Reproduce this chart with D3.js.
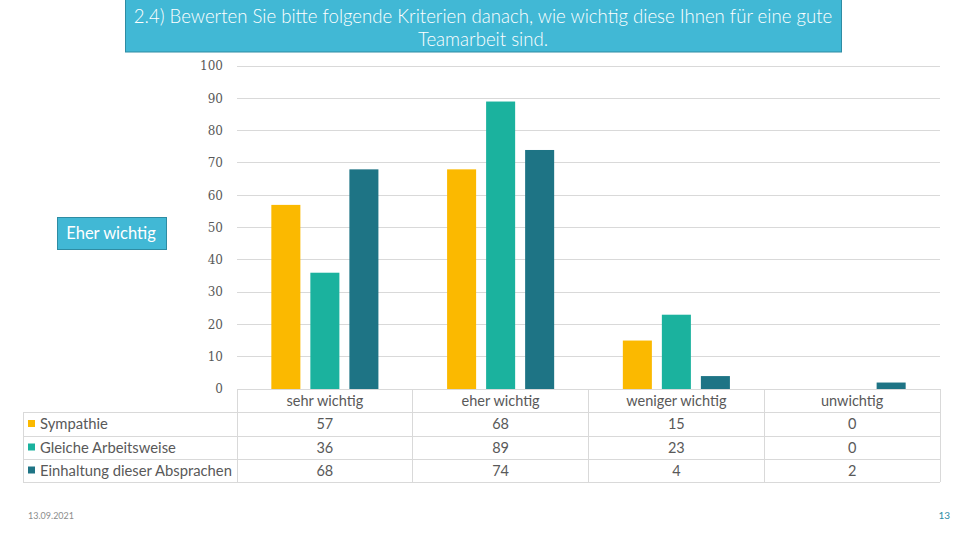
<!DOCTYPE html>
<html><head><meta charset="utf-8">
<script src="https://cdn.jsdelivr.net/npm/d3@7"></script>
<style>body{margin:0;background:#fff;}svg{display:block;}</style>
</head><body>
<svg id="c" width="960" height="540"></svg>
<script>
const categories = ["sehr wichtig", "eher wichtig", "weniger wichtig", "unwichtig"];
const seriesNames = ["Sympathie", "Gleiche Arbeitsweise", "Einhaltung dieser Absprachen"];
const sympathie = [57, 68, 15, 0];
const gleiche = [36, 89, 23, 0];
const einhaltung = [68, 74, 4, 2];
const yTicks = [0, 10, 20, 30, 40, 50, 60, 70, 80, 90, 100];
const colors = ["#fbb900", "#1bb29e", "#1e7485"];
const titleLines = ["2.4) Bewerten Sie bitte folgende Kriterien danach, wie wichtig diese Ihnen für eine gute", "Teamarbeit sind."];

const series = [sympathie, gleiche, einhaltung];
const svg = d3.select("#c");
const font = "Lato, 'Open Sans', sans-serif";
const L = 237, R = 940, T = 66, B = 389;

const x = d3.scaleBand().domain(categories).range([L, R]);
const xi = d3.scaleBand().domain(d3.range(3)).range([0, x.bandwidth()]).paddingInner(0.256).paddingOuter(0.88);
const y = d3.scaleLinear().domain([0, 100]).range([B, T]);

// gridlines
svg.append("g").selectAll("line").data(yTicks).join("line")
  .attr("x1", L).attr("x2", R).attr("y1", d => y(d)).attr("y2", d => y(d))
  .attr("stroke", "#d9d9d9").attr("stroke-width", 1).attr("shape-rendering", "crispEdges");

// y axis labels
const yAxis = d3.axisLeft(y).tickValues(yTicks).tickSize(0).tickPadding(14);
const ya = svg.append("g").attr("transform", `translate(${L},0)`).call(yAxis);
ya.select(".domain").remove();
ya.selectAll("text").attr("font-family", "'DejaVu Serif', serif").attr("font-size", 12).attr("fill", "#595959");

// bars
series.forEach((s, si) => {
  svg.append("g").selectAll("rect").data(s).join("rect")
    .attr("x", (d, i) => x(categories[i]) + xi(si))
    .attr("width", xi.bandwidth())
    .attr("y", d => y(d))
    .attr("height", d => B - y(d))
    .attr("fill", colors[si]);
});

// data table
const rowY = [389, 412, 436, 459, 482];
const tableLeft = 23;
const g = svg.append("g").attr("stroke", "#d9d9d9").attr("stroke-width", 1).attr("shape-rendering", "crispEdges");
g.append("line").attr("x1", L).attr("x2", R).attr("y1", rowY[0]).attr("y2", rowY[0]);
rowY.slice(1).forEach(yy => g.append("line").attr("x1", tableLeft).attr("x2", R).attr("y1", yy).attr("y2", yy));
const colX = categories.map(c => x(c)).concat([R]);
colX.forEach(xx => g.append("line").attr("x1", xx).attr("x2", xx).attr("y1", rowY[0]).attr("y2", rowY[4]));
g.append("line").attr("x1", tableLeft).attr("x2", tableLeft).attr("y1", rowY[1]).attr("y2", rowY[4]);

svg.append("g").selectAll("text").data(categories).join("text")
  .attr("x", d => x(d) + x.bandwidth() / 2).attr("y", (rowY[0] + rowY[1]) / 2 + 5)
  .attr("text-anchor", "middle").attr("font-family", font).attr("font-size", 14.5).attr("fill", "#595959")
  .text(d => d);

series.forEach((s, si) => {
  const cy = (rowY[si + 1] + rowY[si + 2]) / 2 + 5;
  svg.append("g").selectAll("text").data(s).join("text")
    .attr("x", (d, i) => x(categories[i]) + x.bandwidth() / 2).attr("y", cy)
    .attr("text-anchor", "middle").attr("font-family", font).attr("font-size", 14.5).attr("fill", "#595959")
    .text(d => d);
  svg.append("rect").attr("x", 28).attr("y", cy - 9).attr("width", 7).attr("height", 7).attr("fill", colors[si]);
  svg.append("text").attr("x", 40).attr("y", cy).attr("font-family", font).attr("font-size", 14.8)
    .attr("fill", "#595959").text(seriesNames[si]);
});

// title box
svg.append("rect").attr("x", 125.5).attr("y", -1).attr("width", 716).attr("height", 53)
  .attr("fill", "#41b8d5").attr("stroke", "#2e8ca3").attr("stroke-width", 1);
svg.append("g").selectAll("text").data(titleLines).join("text")
  .attr("x", 483).attr("y", (d, i) => 23 + i * 23).attr("text-anchor", "middle")
  .attr("font-family", font).attr("font-weight", 300).attr("font-size", 18.6).attr("fill", "#fff").text(d => d);

// Eher wichtig box
svg.append("rect").attr("x", 57.5).attr("y", 217.5).attr("width", 109).attr("height", 32)
  .attr("fill", "#41b8d5").attr("stroke", "#2e8ca3").attr("stroke-width", 1);
svg.append("text").attr("x", 111).attr("y", 239).attr("text-anchor", "middle")
  .attr("font-family", font).attr("font-size", 16.5).attr("fill", "#fff").text("Eher wichtig");

// footer
svg.append("text").attr("x", 28).attr("y", 519).attr("font-family", font).attr("font-size", 9)
  .attr("fill", "#8c8c8c").text("13.09.2021");
svg.append("text").attr("x", 950).attr("y", 519).attr("text-anchor", "end").attr("font-family", font).attr("font-size", 10)
  .attr("fill", "#2d8ca5").text("13");
</script>
</body></html>
